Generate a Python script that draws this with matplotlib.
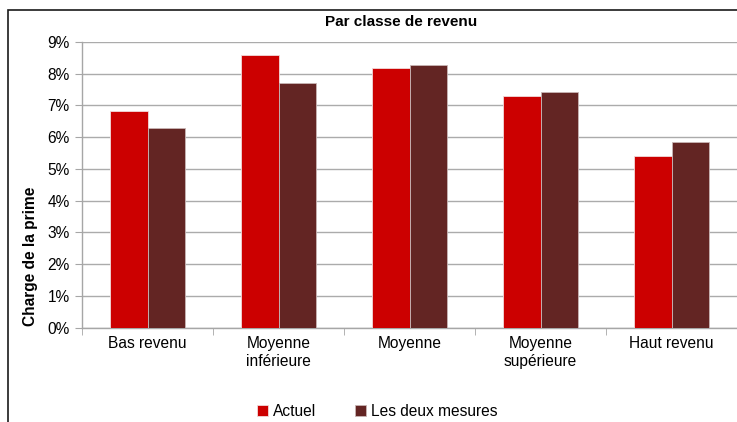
import numpy as np
import matplotlib.pyplot as plt
from matplotlib.patches import Rectangle
from matplotlib.ticker import FuncFormatter, FixedLocator

plt.rcParams['font.family'] = ['Liberation Sans', 'DejaVu Sans']

categories = ['Bas revenu', 'Moyenne\ninférieure', 'Moyenne', 'Moyenne\nsupérieure', 'Haut revenu']
actuel = [6.83, 8.58, 8.17, 7.29, 5.42]
deux_mesures = [6.28, 7.70, 8.26, 7.42, 5.85]
series_names = ['Actuel', 'Les deux mesures']
colors = ['#CC0000', '#632523']

fig = plt.figure(figsize=(7.37, 4.22), dpi=100)
ax = fig.add_axes([0.1113, 0.2235, 0.889, 0.6775])

x = np.arange(len(categories))
w = 0.284
ax.bar(x - w / 2, actuel, w, color=colors[0], edgecolor='#F2DADA', linewidth=0.6,
       label=series_names[0], zorder=3)
ax.bar(x + w / 2, deux_mesures, w, color=colors[1], edgecolor='#C9B5B5', linewidth=0.6,
       label=series_names[1], zorder=3)

ax.set_xlim(-0.5, len(categories) - 0.5)
ax.set_ylim(0, 9)
ax.set_yticks(np.arange(0, 10, 1))
ax.yaxis.set_major_formatter(FuncFormatter(lambda v, p: f'{int(v)}%'))
ax.grid(axis='y', color='#ABABAB', linewidth=1, zorder=0)

ax.set_xticks(x)
ax.set_xticklabels(categories, fontsize=11.2, linespacing=1.25)
ax.tick_params(axis='x', length=0, pad=6)
ax.xaxis.set_minor_locator(FixedLocator(np.arange(-0.5, len(categories), 1)))
ax.tick_params(axis='x', which='minor', length=5, color='#A6A6A6', direction='out')
ax.tick_params(axis='y', labelsize=11.2, length=5, color='#A6A6A6', pad=4)

for s in ['top', 'right']:
    ax.spines[s].set_visible(False)
for s in ['left', 'bottom']:
    ax.spines[s].set_color('#A6A6A6')
    ax.spines[s].set_linewidth(1)

fig.text(0.544, 0.948, 'Par classe de revenu', ha='center', va='center',
         fontsize=11, fontweight='bold')
fig.text(0.041, 0.393, 'Charge de la prime', ha='center', va='center',
         rotation=90, fontsize=11.2, fontweight='bold')

fig.legend(loc='center', bbox_to_anchor=(0.512, 0.026), ncol=2, frameon=False,
           fontsize=11.2, handlelength=0.7, handleheight=0.7, handletextpad=0.3,
           columnspacing=2.5)

fig.patches.append(Rectangle((8 / 737, -0.2), 1.2, 0.2 + (422 - 10) / 422,
                             transform=fig.transFigure, fill=False,
                             edgecolor='#1a1a1a', linewidth=1.2))

fig.savefig('out.png', dpi=100)
